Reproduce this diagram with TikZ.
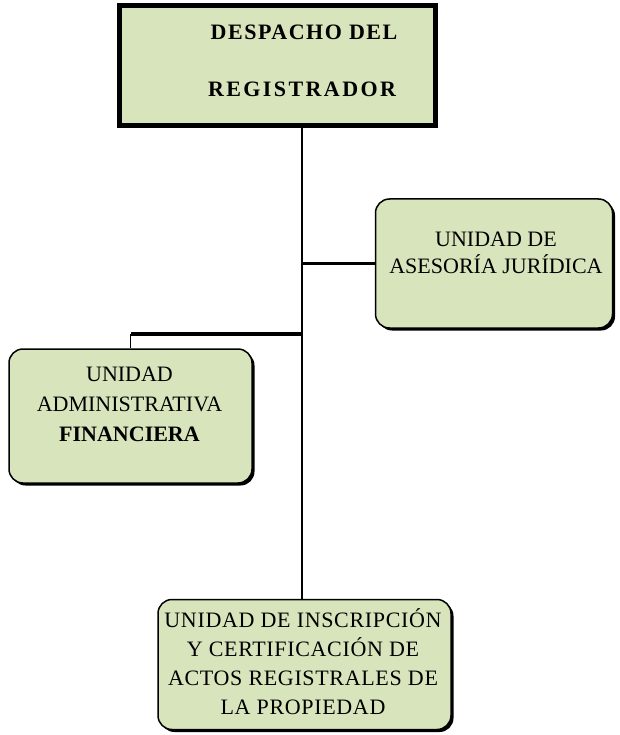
\documentclass[tikz,border=0pt]{standalone}
\usepackage{fontspec}
\setmainfont{Liberation Serif}
\usetikzlibrary{shadows}
\definecolor{boxfill}{HTML}{D8E4BC}
\begin{document}
\begin{tikzpicture}[x=1pt,y=-1pt,
  unitbox/.style={draw=black, line width=1.5pt, fill=boxfill, rounded corners=14pt,
    drop shadow={shadow xshift=2.5pt, shadow yshift=-2.5pt, fill=black, opacity=1}},
  headbox/.style={draw=black, line width=5pt, fill=boxfill},
  lbl/.style={align=center, inner sep=0pt, font=\fontsize{22}{29}\selectfont},
  conn/.style={line width=2pt}
]
\useasboundingbox (0,0) rectangle (619,735);
% boxes
\node[headbox, minimum width=316pt, minimum height=120pt] (top) at (277.5,65.5) {};
\node[unitbox, minimum width=237pt, minimum height=129pt] (rgt) at (494,263.5) {};
\node[unitbox, minimum width=243pt, minimum height=134pt] (lft) at (130.5,416) {};
\node[unitbox, minimum width=293pt, minimum height=130pt] (bot) at (304.5,664.5) {};
% texts
\node[inner sep=0pt, font=\bfseries\fontsize{22}{22}\selectfont\addfontfeature{LetterSpace=7}] (t1) at (304,32) {DESPACHO DEL};
\node[inner sep=0pt, font=\bfseries\fontsize{22}{22}\selectfont\addfontfeature{LetterSpace=11}] (t2) at (302,89) {REGISTRADOR};
\node[lbl, font=\fontsize{22}{27}\selectfont] (rt) at (496,253) {UNIDAD DE\\ASESORÍA JURÍDICA};
\node[lbl, font=\fontsize{22}{30}\selectfont] (lt) at (129.5,404) {UNIDAD\\ADMINISTRATIVA\\\textbf{FINANCIERA}};
\node[lbl, font=\fontsize{22}{29}\selectfont\addfontfeature{LetterSpace=3}] (bt) at (303,662) {UNIDAD DE INSCRIPCIÓN\\Y CERTIFICACIÓN DE\\ACTOS REGISTRALES DE\\LA PROPIEDAD};
% connectors
\coordinate (spine) at (301.5,0);
\coordinate (lj) at (301.5,334);
\draw[conn] (top.south -| spine) -- (bot.north -| spine);
\draw[line width=2.5pt] (rgt.west -| spine) -- (rgt.west);
\draw[line width=4pt] (lj) -- (lj -| lft.north);
\draw[line width=1.8pt] (lj -| lft.north) -- (lft.north);
\end{tikzpicture}
\end{document}
